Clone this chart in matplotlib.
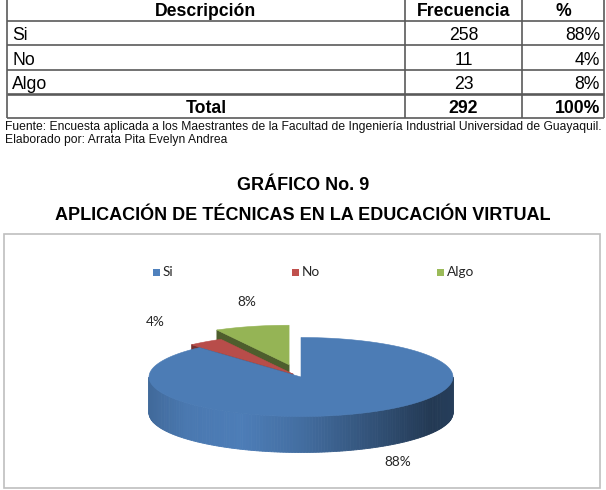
import numpy as np
import matplotlib
matplotlib.use('Agg')
import matplotlib.pyplot as plt
from matplotlib.patches import Polygon, Rectangle
import matplotlib.colors as mcolors

# ---------------- data ----------------
header = ['Descripción', 'Frecuencia', '%']
categories = ['Si', 'No', 'Algo']
frecuencia = [258, 11, 23]
porcentaje = ['88%', '4%', '8%']
total_label = 'Total'
total_frecuencia = 292
total_porcentaje = '100%'
fuente = ('Fuente: Encuesta aplicada a los Maestrantes de la Facultad de '
          'Ingeniería Industrial Universidad de Guayaquil.')
elaborado = 'Elaborado por: Arrata Pita Evelyn Andrea'
titulo1 = 'GRÁFICO No. 9'
titulo2 = 'APLICACIÓN DE TÉCNICAS EN LA EDUCACIÓN VIRTUAL'

# ---------------- styles / layout ----------------
colors = ['#4F81BD', '#C0504D', '#9BBB59']
wall_shade = [0.6, 0.62, 0.5]
explode = [0.0, 0.09, 0.32]
label_pos = [(398, 462), (155, 322), (247, 302)]

W, H = 606, 490
fig = plt.figure(figsize=(W / 100, H / 100), dpi=100)
fig.patch.set_facecolor('white')
ax = fig.add_axes([0, 0, 1, 1])
ax.set_xlim(0, W)
ax.set_ylim(H, 0)
ax.axis('off')

TF = 'Liberation Sans'
FS = 12.7

# ---------------- table ----------------
col_x = [7, 405, 522, 604]
row_y = [-1, 21, 45.5, 70, 94, 118]
line_c = '#5a5a5a'
for x in col_x:
    ax.plot([x, x], [row_y[0], row_y[-1]], color=line_c, lw=1.2, solid_capstyle='butt')
for i, y in enumerate(row_y):
    ax.plot([col_x[0], col_x[-1]], [y, y], color=line_c, lw=1.9 if i == 4 else 1.2,
            solid_capstyle='butt')

c0 = (col_x[0] + col_x[1]) / 2
c1 = (col_x[1] + col_x[2]) / 2
c2 = (col_x[2] + col_x[3]) / 2
for txt, cx_ in zip(header, [c0, c1, c2]):
    ax.text(cx_, 16, txt, ha='center', va='baseline', fontsize=FS,
            fontweight='bold', family=TF, color='black')

for i, (c, f, p) in enumerate(zip(categories, frecuencia, porcentaje)):
    yb = row_y[i + 1] + 19.2
    ax.text(col_x[0] + 5, yb, c, ha='left', va='baseline', fontsize=FS, family=TF)
    ax.text(c1, yb, str(f), ha='center', va='baseline', fontsize=FS, family=TF)
    ax.text(col_x[3] - 4, yb, p, ha='right', va='baseline', fontsize=FS, family=TF)

yb = row_y[4] + 19.2
ax.text(c0, yb, total_label, ha='center', va='baseline', fontsize=FS,
        fontweight='bold', family=TF)
ax.text(c1, yb, str(total_frecuencia), ha='center', va='baseline', fontsize=FS,
        fontweight='bold', family=TF)
ax.text(col_x[3] - 4, yb, total_porcentaje, ha='right', va='baseline', fontsize=FS,
        fontweight='bold', family=TF)

ax.text(5, 130, fuente, ha='left', va='baseline', fontsize=8.7, family=TF, color='#111111')
ax.text(5, 142.5, elaborado, ha='left', va='baseline', fontsize=8.7, family=TF, color='#111111')

# ---------------- titles ----------------
ax.text(W / 2, 190, titulo1, ha='center', va='baseline', fontsize=13,
        fontweight='bold', family=TF)
ax.text(W / 2, 220, titulo2, ha='center', va='baseline', fontsize=13,
        fontweight='bold', family=TF)

# ---------------- chart box ----------------
ax.add_patch(Rectangle((4, 234), 596, 254, fill=False, edgecolor='#BFBFBF', lw=1.2))

# ---------------- 3D pie ----------------
cx, cy, rx, ry, depth = 301, 377, 152, 39.5, 36
vals = np.array(frecuencia, dtype=float)
fr = vals / vals.sum()
ends = np.cumsum(fr) * 2 * np.pi
starts = np.concatenate([[0.0], ends[:-1]])
mids = (starts + ends) / 2


def offs(i):
    e = explode[i]
    return e * rx * np.sin(mids[i]), -e * ry * np.cos(mids[i])


def pt(th, ox, oy, dz=0.0):
    return cx + ox + rx * np.sin(th), cy + oy - ry * np.cos(th) + dz


def shade(col, f):
    r, g, b = mcolors.to_rgb(col)
    return (min(r * f, 1), min(g * f, 1), min(b * f, 1))


order = np.argsort(-np.cos(mids))  # back to front

# side walls
for i in order:
    ox, oy = offs(i)
    s, e = starts[i], ends[i]
    walls = []
    if np.sin(s) < -1e-6:
        walls.append(s)
    if np.sin(e) > 1e-6:
        walls.append(e)
    for th in walls:
        a = (cx + ox, cy + oy)
        b = pt(th, ox, oy)
        poly = [a, b, (b[0], b[1] + depth), (a[0], a[1] + depth)]
        ax.add_patch(Polygon(poly, closed=True, facecolor=shade(colors[i], wall_shade[i]),
                             edgecolor=shade(colors[i], wall_shade[i]), lw=0.5))
    lo, hi = max(s, np.pi / 2), min(e, 3 * np.pi / 2)
    if hi > lo:
        n = 160
        ths = np.linspace(lo, hi, n + 1)
        tpos = [0.0, 0.12, 0.3, 0.5, 0.75, 0.93, 1.0]
        fval = [0.82, 0.93, 0.97, 0.85, 0.62, 0.44, 0.48]
        for k in range(n):
            t0, t1 = ths[k], ths[k + 1]
            p0, p1 = pt(t0, ox, oy), pt(t1, ox, oy)
            poly = [p0, p1, (p1[0], p1[1] + depth), (p0[0], p0[1] + depth)]
            xf = (np.sin((t0 + t1) / 2) + 1) / 2
            f = np.interp(xf, tpos, fval)
            c = shade(colors[i], f)
            ax.add_patch(Polygon(poly, closed=True, facecolor=c, edgecolor=c, lw=0.6))

# top faces
for i in order:
    ox, oy = offs(i)
    ths = np.linspace(starts[i], ends[i], 200)
    arc = [pt(t, ox, oy) for t in ths]
    poly = [(cx + ox, cy + oy)] + arc
    c = shade(colors[i], 0.96)
    ax.add_patch(Polygon(poly, closed=True, facecolor=c, edgecolor=c, lw=0.4))

# data labels
LF = 'Lato'
for (lx, ly), p in zip(label_pos, porcentaje):
    ax.text(lx, ly, p, ha='center', va='center', fontsize=9.8, family=LF, color='#262626')

# legend
leg_x = [156, 295, 440]
for lx, c, name in zip(leg_x, colors, categories):
    ax.add_patch(Rectangle((lx - 3.5, 272 - 3.5), 7, 7, facecolor=c, edgecolor='none'))
    ax.text(lx + 7, 272, name, ha='left', va='center', fontsize=9.8, family=LF, color='#262626')

fig.savefig('out.png', dpi=100, facecolor='white')
